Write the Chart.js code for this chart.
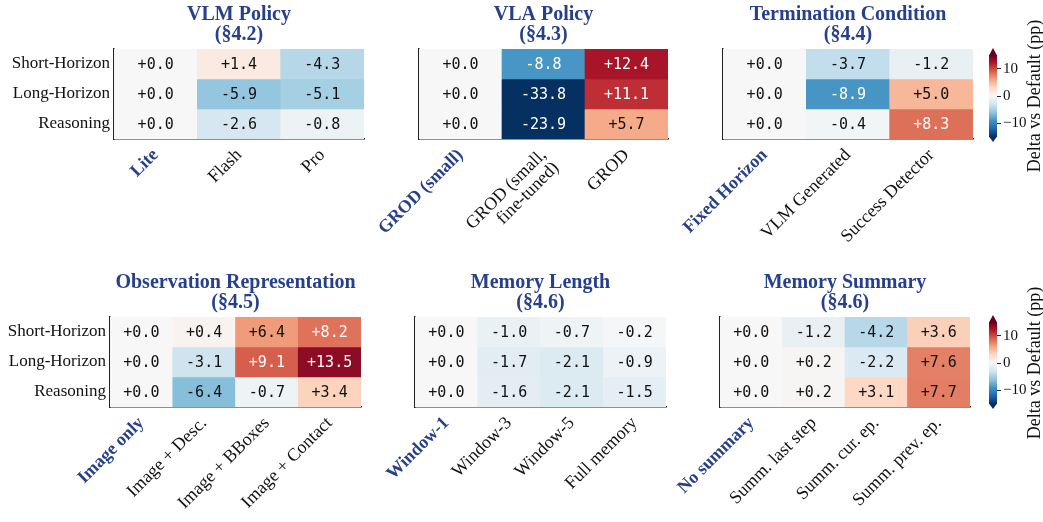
<!DOCTYPE html>
<html>
<head>
<meta charset="utf-8">
<script src="https://cdn.jsdelivr.net/npm/chart.js@4.4.1/dist/chart.umd.min.js"></script>
<style>
  body { margin: 0; background: #fff; }
  #wrap { position: relative; width: 1043px; height: 522px; }
  canvas { position: absolute; }
</style>
</head>
<body>
<div id="wrap">
  <canvas id="vlm" width="372" height="260" style="left:0;top:0"></canvas>
  <canvas id="vla" width="346" height="260" style="left:330px;top:0"></canvas>
  <canvas id="term" width="350" height="260" style="left:630px;top:0"></canvas>
  <canvas id="cb1" width="63" height="260" style="left:980px;top:0"></canvas>
  <canvas id="obs" width="370" height="260" style="left:0;top:262px"></canvas>
  <canvas id="memLen" width="344" height="260" style="left:330px;top:262px"></canvas>
  <canvas id="memSum" width="348" height="260" style="left:630px;top:262px"></canvas>
  <canvas id="cb2" width="63" height="260" style="left:980px;top:262px"></canvas>
</div>
<script>
const rows = ['Short-Horizon', 'Long-Horizon', 'Reasoning'];

const vlmCols = ['Lite', 'Flash', 'Pro'];
const vlmVals = [[0, 1.4, -4.3], [0, -5.9, -5.1], [0, -2.6, -0.8]];

const vlaCols = ['GROD (small)', ['GROD (small,', 'fine-tuned)'], 'GROD'];
const vlaVals = [[0, -8.8, 12.4], [0, -33.8, 11.1], [0, -23.9, 5.7]];

const termCols = ['Fixed Horizon', 'VLM Generated', 'Success Detector'];
const termVals = [[0, -3.7, -1.2], [0, -8.9, 5.0], [0, -0.4, 8.3]];

const obsCols = ['Image only', 'Image + Desc.', 'Image + BBoxes', 'Image + Contact'];
const obsVals = [[0, 0.4, 6.4, 8.2], [0, -3.1, 9.1, 13.5], [0, -6.4, -0.7, 3.4]];

const memLenCols = ['Window-1', 'Window-3', 'Window-5', 'Full memory'];
const memLenVals = [[0, -1.0, -0.7, -0.2], [0, -1.7, -2.1, -0.9], [0, -1.6, -2.1, -1.5]];

const memSumCols = ['No summary', 'Summ. last step', 'Summ. cur. ep.', 'Summ. prev. ep.'];
const memSumVals = [[0, -1.2, -4.2, 3.6], [0, 0.2, -2.2, 7.6], [0, 0.2, 3.1, 7.7]];

const cbMin = -15, cbMax = 15;
const cbTicks = [-10, 0, 10];

const serif = 'Liberation Serif';
const mono = 'DejaVu Sans Mono';
const titleBlue = '#27408b';
const ink = '#111';

// RdBu_r
const stops = ['#053061','#2166ac','#4393c3','#92c5de','#d1e5f0','#f7f7f7','#fddbc7','#f4a582','#d6604d','#b2182b','#67001f'];
function hex2rgb(h) { return [1,3,5].map(k => parseInt(h.slice(k, k + 2), 16)); }
function cmap(v) {
    let t = (v - cbMin) / (cbMax - cbMin);
    t = Math.max(0, Math.min(1, t));
    const p = t * 10;
    const i = Math.min(9, Math.floor(p));
    const f = p - i;
    const a = hex2rgb(stops[i]), b = hex2rgb(stops[i + 1]);
    const c = a.map((x, k) => Math.round(x + (b[k] - x) * f));
    return `rgb(${c[0]},${c[1]},${c[2]})`;
}
function fmt(v) { return (v >= 0 ? '+' : '-') + Math.abs(v).toFixed(1); }

const cellText = {
    id: 'cellText',
    afterDatasetsDraw(chart) {
        const ctx = chart.ctx;
        ctx.save();
        ctx.font = `15px "${mono}"`;
        ctx.textAlign = 'center';
        ctx.textBaseline = 'middle';
        chart.data.datasets.forEach((ds, i) => {
            chart.getDatasetMeta(i).data.forEach((bar, j) => {
                const v = ds.values[j];
                ctx.fillStyle = Math.abs(v) >= 8 ? '#fff' : ink;
                ctx.fillText(fmt(v), bar.x, (bar.y + bar.base) / 2 + 1);
            });
        });
        ctx.restore();
    }
};

function heatmap(id, title, section, cols, vals, o) {
    new Chart(document.getElementById(id), {
        type: 'bar',
        data: {
            labels: cols,
            datasets: rows.map((r, i) => ({
                label: r,
                data: cols.map(() => [i, i + 1]),
                values: vals[i],
                backgroundColor: vals[i].map(cmap),
                borderWidth: 0,
                barPercentage: 1,
                categoryPercentage: 1,
                grouped: false
            }))
        },
        options: {
            responsive: false,
            animation: false,
            layout: { padding: { top: o.padTop, right: o.padRight, left: 0, bottom: 0 } },
            plugins: {
                legend: { display: false },
                tooltip: { enabled: false },
                title: {
                    display: true,
                    text: [title, section],
                    fullSize: false,
                    color: titleBlue,
                    font: { family: serif, size: 20, weight: 'bold', lineHeight: 1.0 },
                    padding: { top: 5, bottom: 4 }
                }
            },
            scales: {
                x: {
                    z: 1,
                    grid: { display: false, drawTicks: false },
                    border: { display: true, color: '#222', width: 1.5 },
                    ticks: {
                        autoSkip: false,
                        minRotation: 45,
                        maxRotation: 45,
                        padding: 7,
                        font: c => ({ family: serif, size: 18, weight: c.index === 0 ? 'bold' : 'normal', lineHeight: 1.0 }),
                        color: c => c.index === 0 ? titleBlue : ink
                    },
                    afterFit: s => {
                        s.height = o.xHeight;
                        s.paddingLeft = 0;
                        s.paddingRight = 0;
                    }
                },
                y: {
                    z: 1,
                    min: 0,
                    max: 3,
                    reverse: true,
                    grid: { display: false, drawTicks: false },
                    border: { display: true, color: '#222', width: 1.5 },
                    afterBuildTicks: a => { a.ticks = [0.5, 1.5, 2.5].map(v => ({ value: v })); },
                    ticks: {
                        display: o.showRows,
                        padding: 4,
                        color: ink,
                        font: { family: serif, size: 17 },
                        callback: v => rows[Math.floor(v)]
                    },
                    afterFit: s => {
                        s.width = o.yWidth;
                        s.paddingTop = 0;
                        s.paddingBottom = 0;
                    }
                }
            }
        },
        plugins: [cellText]
    });
}

const cbExtras = {
    id: 'cbExtras',
    afterDraw(chart) {
        const ctx = chart.ctx;
        const a = chart.chartArea;
        const mid = (a.left + a.right) / 2;
        ctx.save();
        ctx.fillStyle = stops[10];
        ctx.beginPath();
        ctx.moveTo(a.left, a.top + 0.5);
        ctx.lineTo(a.right, a.top + 0.5);
        ctx.lineTo(mid, a.top - 7);
        ctx.closePath();
        ctx.fill();
        ctx.fillStyle = stops[0];
        ctx.beginPath();
        ctx.moveTo(a.left, a.bottom - 0.5);
        ctx.lineTo(a.right, a.bottom - 0.5);
        ctx.lineTo(mid, a.bottom + 5);
        ctx.closePath();
        ctx.fill();
        ctx.translate(55, (a.top + a.bottom) / 2);
        ctx.rotate(-Math.PI / 2);
        ctx.fillStyle = ink;
        ctx.font = `18px "${serif}"`;
        ctx.textAlign = 'center';
        ctx.textBaseline = 'middle';
        ctx.fillText('Delta vs Default (pp)', 0, 0);
        ctx.restore();
    }
};

function colorbar(id, padTop, padBottom) {
    new Chart(document.getElementById(id), {
        type: 'bar',
        data: {
            labels: [''],
            datasets: [{
                data: [[cbMin, cbMax]],
                borderWidth: 0,
                barPercentage: 1,
                categoryPercentage: 1,
                backgroundColor: c => {
                    const area = c.chart.chartArea;
                    if (!area) return null;
                    const g = c.chart.ctx.createLinearGradient(0, area.bottom, 0, area.top);
                    stops.forEach((s, k) => g.addColorStop(k / 10, s));
                    return g;
                }
            }]
        },
        options: {
            responsive: false,
            animation: false,
            layout: { padding: { left: 9, top: padTop, bottom: padBottom, right: 0 } },
            plugins: { legend: { display: false }, tooltip: { enabled: false } },
            scales: {
                x: { display: false },
                y: {
                    position: 'right',
                    min: cbMin,
                    max: cbMax,
                    afterBuildTicks: a => { a.ticks = cbTicks.map(v => ({ value: v })); },
                    grid: { drawOnChartArea: false, tickLength: 4, color: '#222' },
                    border: { display: false },
                    ticks: {
                        padding: 2,
                        color: ink,
                        font: { family: serif, size: 15 },
                        callback: v => v < 0 ? '\u2212' + Math.abs(v) : String(v)
                    },
                    afterFit: s => { s.width = 46; }
                }
            }
        },
        plugins: [cbExtras]
    });
}

heatmap('vlm', 'VLM Policy', '(§4.2)', vlmCols, vlmVals, { yWidth: 114, padRight: 8, padTop: 0, xHeight: 121, showRows: true });
heatmap('vla', 'VLA Policy', '(§4.3)', vlaCols, vlaVals, { yWidth: 89, padRight: 8, padTop: 0, xHeight: 121, showRows: false });
heatmap('term', 'Termination Condition', '(§4.4)', termCols, termVals, { yWidth: 93, padRight: 7, padTop: 0, xHeight: 121, showRows: false });
colorbar('cb1', 55, 123);

heatmap('obs', 'Observation Representation', '(§4.5)', obsCols, obsVals, { yWidth: 110, padRight: 9, padTop: 6, xHeight: 115, showRows: true });
heatmap('memLen', 'Memory Length', '(§4.6)', memLenCols, memLenVals, { yWidth: 85, padRight: 8, padTop: 6, xHeight: 115, showRows: false });
heatmap('memSum', 'Memory Summary', '(§4.6)', memSumCols, memSumVals, { yWidth: 90, padRight: 8, padTop: 6, xHeight: 115, showRows: false });
colorbar('cb2', 60, 118);
</script>
</body>
</html>
